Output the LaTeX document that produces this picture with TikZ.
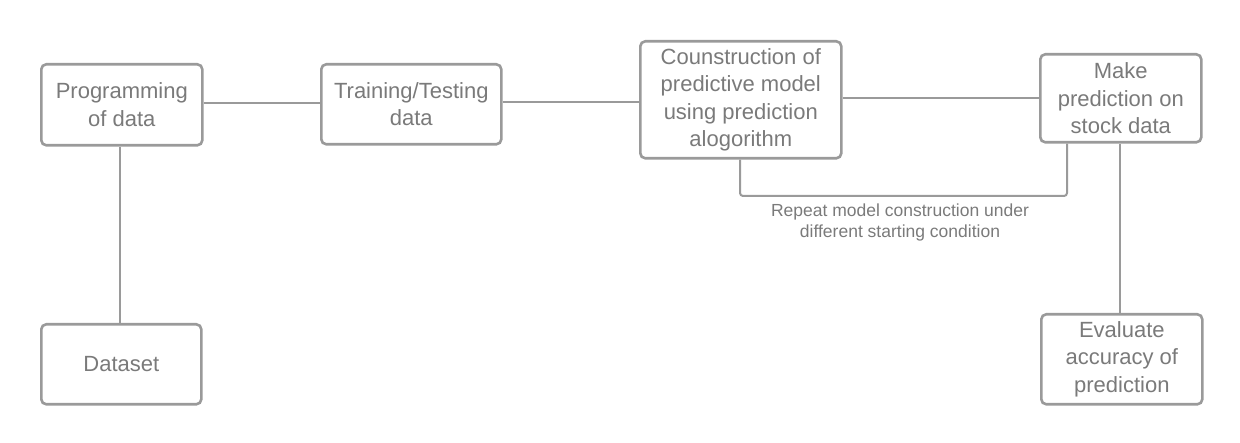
\documentclass[tikz,border=0pt]{standalone}
\usepackage{fontspec}
\setmainfont{Liberation Sans}
\definecolor{edge}{HTML}{9A9A9A}
\definecolor{txt}{HTML}{7A7A7A}
\begin{document}
\begin{tikzpicture}[x=1pt,y=-1pt,
  box/.style={draw=edge,line width=2.6pt,rounded corners=5pt,fill=white,text=txt,
    align=center,font=\fontsize{22}{27.5}\selectfont,inner sep=0pt,anchor=north west},
  conn/.style={draw=edge,line width=2pt},
  lbl/.style={text=txt,font=\fontsize{17.5}{21}\selectfont,align=center}]
\useasboundingbox (0,0) rectangle (1240,443);
\node[box,minimum width=161pt,minimum height=81pt] (prog) at (40,63) {Programming\\of data};
\node[box,minimum width=180pt,minimum height=80pt] (train) at (320,63) {Training/Testing\\data};
\node[box,minimum width=201pt,minimum height=117pt] (cons) at (639,40) {Counstruction of\\predictive model\\using prediction\\alogorithm};
\node[box,minimum width=161pt,minimum height=88pt] (make) at (1039,53) {Make\\prediction on\\stock data};
\node[box,minimum width=160pt,minimum height=80pt] (data) at (40,323) {Dataset};
\node[box,minimum width=161pt,minimum height=90pt] (eval) at (1040,313) {Evaluate\\accuracy of\\prediction};
\coordinate (l1) at (740,196);
\coordinate (l2) at (1067,196);
\draw[conn] (prog.east |- 0,103) -- (train.west |- 0,103);
\draw[conn] (train.east |- 0,102) -- (cons.west |- 0,102);
\draw[conn] (cons.east |- 0,98) -- (make.west |- 0,98);
\draw[conn] (prog.south -| 120,0) -- (data.north -| 120,0);
\draw[conn] (make.south -| 1120,0) -- (eval.north -| 1120,0);
\draw[conn,rounded corners=3pt] (cons.south -| l1) -- (l1) -- (l2) -- (make.south -| l2);
\node[lbl] (rep) at (900,222) {Repeat model construction under\\different starting condition};
\end{tikzpicture}
\end{document}
